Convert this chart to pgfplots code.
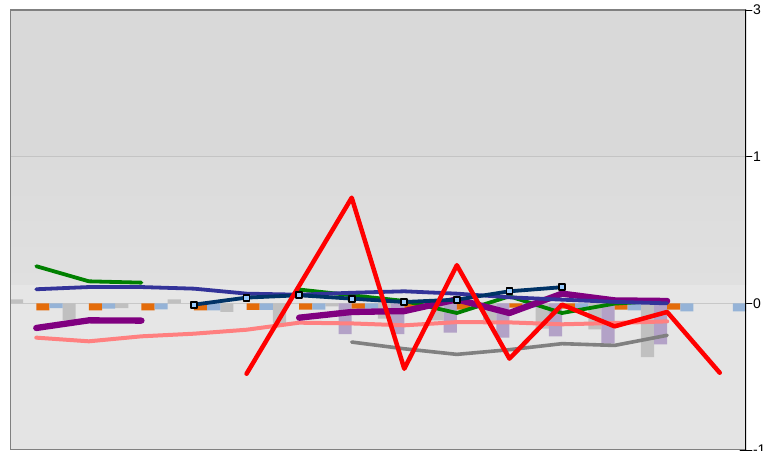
\documentclass[border=0pt]{standalone}
\usepackage{pgfplots}
\pgfplotsset{compat=1.18}
\usepackage{fontspec}
\setmainfont{Liberation Sans}

\definecolor{barGray}{HTML}{C0C0C0}
\definecolor{barLav}{HTML}{B3A2C7}
\definecolor{barOrg}{HTML}{E46C0A}
\definecolor{barBlu}{HTML}{95B3D7}
\definecolor{lnGreen}{HTML}{008000}
\definecolor{lnIndigo}{HTML}{333399}
\definecolor{lnPurple}{HTML}{800080}
\definecolor{lnPink}{HTML}{FF8080}
\definecolor{lnRed}{HTML}{FF0000}
\definecolor{lnNavy}{HTML}{003366}
\definecolor{lnGray}{HTML}{808080}
\definecolor{mkFill}{HTML}{99CCFF}
\definecolor{bgTop}{HTML}{D9D9D9}
\definecolor{bgMidA}{HTML}{DBDBDB}
\definecolor{bgMidB}{HTML}{E0E0E0}
\definecolor{bgBand}{HTML}{E6E6E6}
\definecolor{bgLow}{HTML}{E4E4E4}
\definecolor{gridC}{HTML}{C4C4C4}
\definecolor{zeroC}{HTML}{C8C8C8}
\definecolor{frameC}{HTML}{808080}

\begin{document}
\begin{tikzpicture}
\begin{axis}[
    width=736pt, height=440pt, scale only axis,
    xmin=-0.5, xmax=13.5, ymin=-1, ymax=2,
    axis line style={draw=none},
    xtick=\empty,
    ytick={-1,0,1,2}, yticklabels={-1,0,1,3},
    ytick pos=right, yticklabel pos=right,
    tick align=center, major tick length=12pt,
    ytick style={black, line width=0.8pt},
    yticklabel style={font=\fontsize{14}{14}\selectfont, anchor=west, xshift=-2.5pt},
    line cap=round, line join=round,
]
% background bands
\fill[bgTop] (axis cs:-0.5,1) rectangle (axis cs:13.5,2);
\shade[top color=bgMidA, bottom color=bgMidB] (axis cs:-0.5,0.125) rectangle (axis cs:13.5,1);
\fill[bgBand] (axis cs:-0.5,-0.25) rectangle (axis cs:13.5,0.125);
\fill[bgLow] (axis cs:-0.5,-1) rectangle (axis cs:13.5,-0.25);
\draw[gridC, line width=0.8pt] (axis cs:-0.5,1) -- (axis cs:13.5,1);
\draw[zeroC, line width=1.6pt] (axis cs:-0.5,0) -- (axis cs:13.5,0);

% bars
\addplot[ybar, bar width=13.15pt, bar shift=-19.72pt, fill=barGray, draw=none] coordinates {
 (0,0.027) (1,-0.116) (2,-0.032) (3,0.027) (4,-0.059) (5,-0.139) (6,-0.02)
 (7,-0.105) (8,-0.116) (9,-0.116) (10,-0.173) (11,-0.178) (12,-0.367)};
\addplot[ybar, bar width=13.15pt, bar shift=-6.57pt, fill=barLav, draw=none] coordinates {
 (6,-0.21) (7,-0.21) (8,-0.2) (9,-0.234) (10,-0.225) (11,-0.275) (12,-0.28)};
\addplot[ybar, bar width=13.15pt, bar shift=6.57pt, fill=barOrg, draw=none] coordinates {
 (0,-0.048) (1,-0.048) (2,-0.048) (3,-0.048) (4,-0.045) (5,-0.043) (6,-0.036)
 (7,-0.036) (8,-0.043) (9,-0.03) (10,-0.036) (11,-0.043) (12,-0.043)};
\addplot[ybar, bar width=13.15pt, bar shift=19.72pt, fill=barBlu, draw=none] coordinates {
 (0,-0.032) (1,-0.036) (2,-0.041) (3,-0.048) (4,-0.045) (5,-0.043) (6,-0.036)
 (7,-0.03) (8,-0.03) (9,-0.03) (10,-0.036) (11,-0.048) (12,-0.055) (13,-0.055)};

% lines
\addplot[lnPink, line width=4pt, mark=none] coordinates {
 (0,-0.234) (1,-0.259) (2,-0.225) (3,-0.207) (4,-0.18) (5,-0.132) (6,-0.137)
 (7,-0.15) (8,-0.128) (9,-0.13) (10,-0.143) (11,-0.134) (12,-0.123)};
\addplot[lnGray, line width=3.6pt, mark=none] coordinates {
 (6,-0.264) (7,-0.31) (8,-0.348) (9,-0.316) (10,-0.275) (11,-0.287) (12,-0.218)};
\addplot[lnGreen, line width=3.8pt, mark=none, unbounded coords=jump] coordinates {
 (0,0.253) (1,0.15) (2,0.141) (3,nan) (4,nan) (5,0.094) (6,0.055) (7,0.016)
 (8,-0.066) (9,0.048) (10,-0.066) (11,-0.002) (12,0.02)};
\addplot[lnPurple, line width=6.3pt, mark=none, unbounded coords=jump] coordinates {
 (0,-0.168) (1,-0.116) (2,-0.118) (3,nan) (4,nan) (5,-0.098) (6,-0.059) (7,-0.053)
 (8,0.027) (9,-0.066) (10,0.066) (11,0.02) (12,0.016)};
\addplot[lnIndigo, line width=3.8pt, mark=none] coordinates {
 (0,0.096) (1,0.111) (2,0.111) (3,0.1) (4,0.066) (5,0.059) (6,0.072) (7,0.082)
 (8,0.066) (9,0.041) (10,0.025) (11,0.01) (12,0.0)};
\addplot[lnNavy, line width=3.8pt, mark=square*,
    mark options={fill=mkFill, draw=black, line width=1.8pt, scale=1.5}] coordinates {
 (3,-0.009) (4,0.039) (5,0.055) (6,0.032) (7,0.009) (8,0.025) (9,0.082) (10,0.11)};
\addplot[lnRed, line width=4.5pt, mark=none] coordinates {
 (4,-0.48) (6,0.72) (7,-0.446) (8,0.26) (9,-0.377) (10,-0.009) (11,-0.157)
 (12,-0.059) (13,-0.473)};

% frame
\draw[frameC, line width=2pt] (rel axis cs:1,0) -- (rel axis cs:0,0) -- (rel axis cs:0,1) -- (rel axis cs:1,1);
\draw[black, line width=1.2pt] (rel axis cs:1,0) -- (rel axis cs:1,1);
\end{axis}
\pgfresetboundingbox
\path ([shift={(-10pt,-1pt)}]current axis.south west) rectangle ([shift={(19pt,10pt)}]current axis.north east);
\end{tikzpicture}
\end{document}
